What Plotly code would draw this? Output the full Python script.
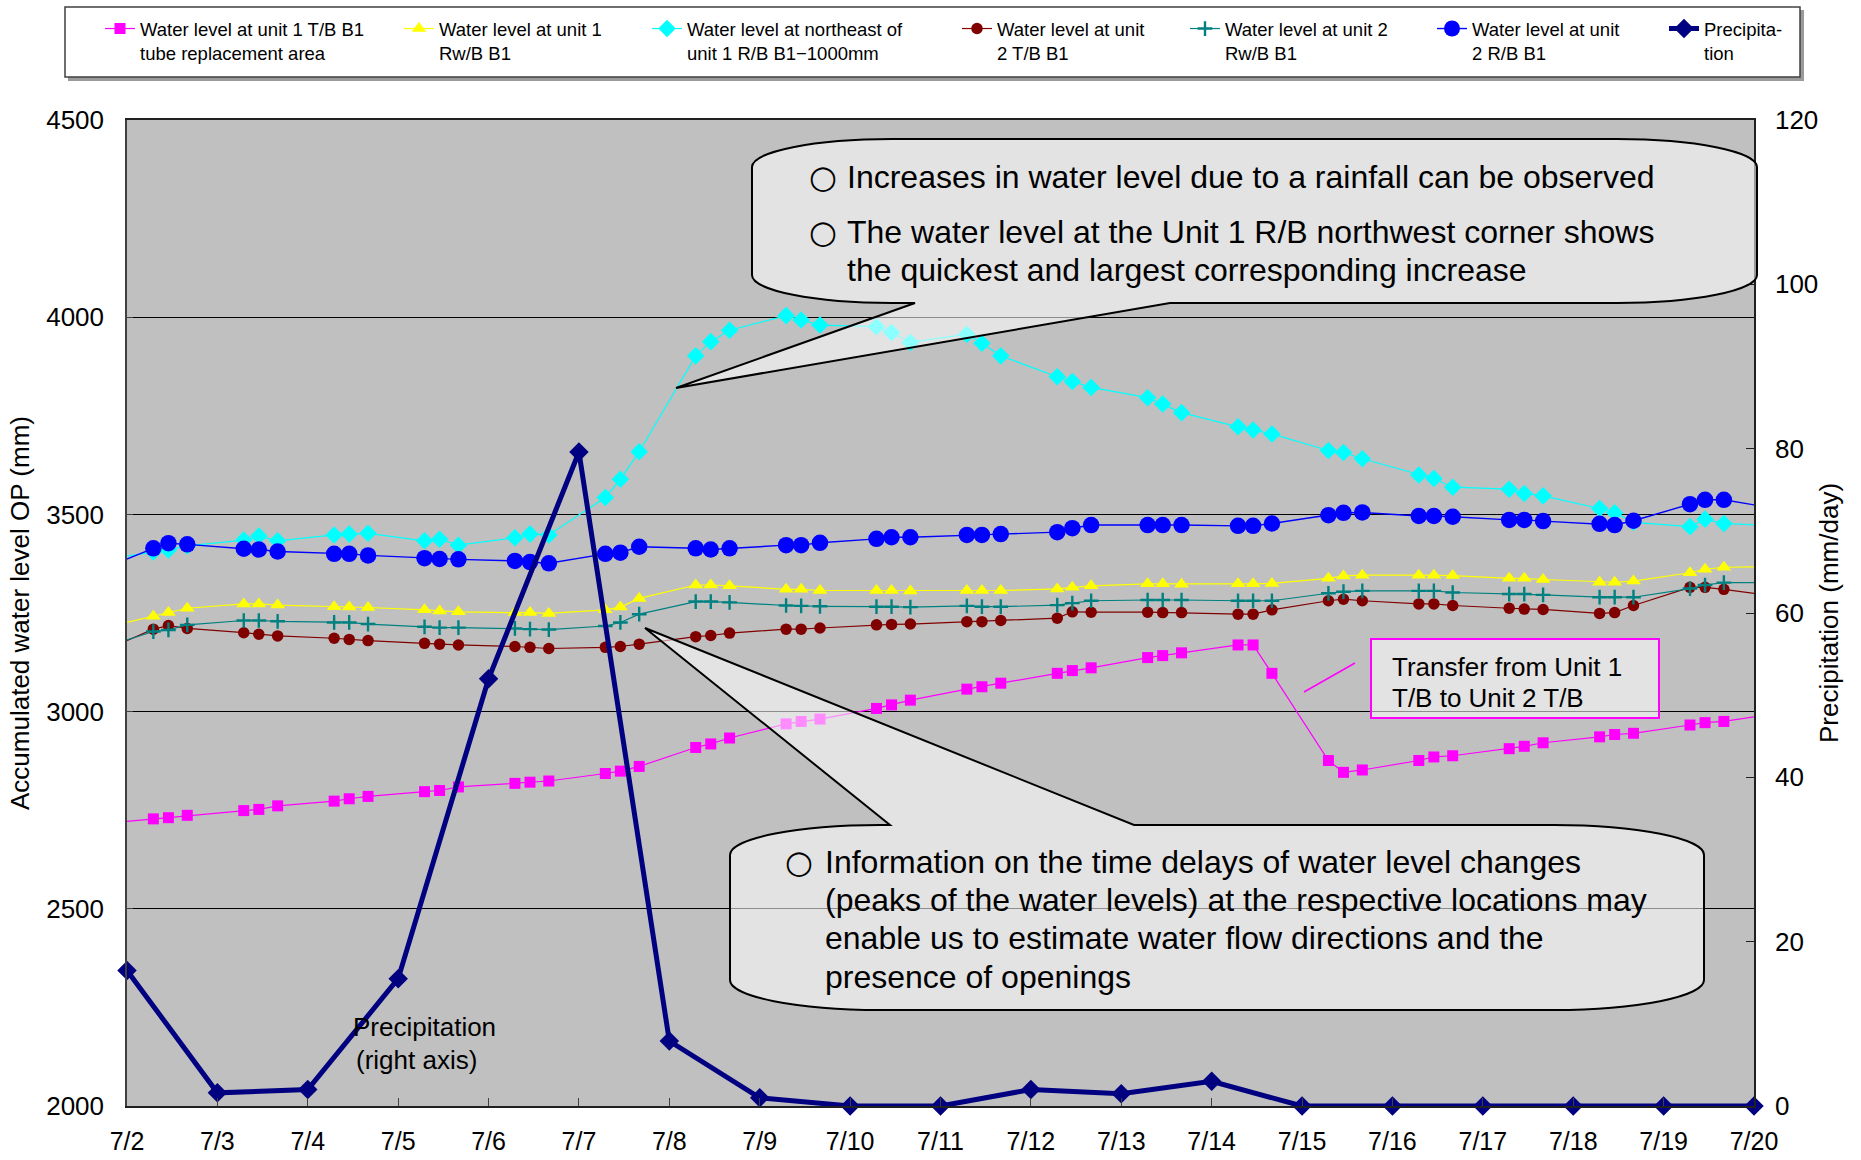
import plotly.graph_objects as go

# ---------------- data ----------------
days = list(range(2, 20))                      # 7/2 ... 7/19, three readings a day
reading_hours = ["07:00", "11:00", "16:00"]
first_reading = "2011-07-01 16:00"             # previous reading (left of the chart)
last_reading = "2011-07-20 07:00"              # next reading (right of the chart)

level_u1_tb = [2715,
               2728, 2731, 2737, 2749, 2752, 2761, 2773, 2779, 2785, 2797, 2800, 2809,
               2818, 2821, 2824, 2843, 2849, 2861, 2909, 2918, 2933, 2969, 2975, 2981,
               3008, 3017, 3029, 3057, 3063, 3072, 3097, 3104, 3111, 3137, 3142, 3149,
               3169, 3169, 3097, 2876, 2846, 2852, 2876, 2885, 2888, 2906, 2912, 2921,
               2936, 2942, 2945, 2966, 2972, 2975,
               2997]
level_u1_rwb = [3208,
                3242, 3251, 3262, 3273, 3273, 3270, 3266, 3265, 3264, 3258, 3255, 3253,
                3251, 3251, 3249, 3258, 3265, 3287, 3321, 3321, 3319, 3310, 3310, 3307,
                3307, 3307, 3306, 3307, 3307, 3307, 3311, 3315, 3319, 3324, 3324, 3323,
                3324, 3324, 3325, 3338, 3344, 3346, 3346, 3346, 3345, 3338, 3338, 3335,
                3328, 3328, 3331, 3352, 3361, 3366,
                3368]
level_u1_rb_ne = [3383,
                  3405, 3410, 3420, 3435, 3445, 3433, 3448, 3450, 3452, 3433, 3437, 3422,
                  3441, 3450, 3448, 3543, 3589, 3659, 3902, 3938, 3967, 4004, 3993, 3980,
                  3976, 3961, 3936, 3957, 3934, 3902, 3849, 3837, 3822, 3796, 3780, 3758,
                  3722, 3714, 3704, 3662, 3657, 3641, 3600, 3591, 3569, 3564, 3553, 3547,
                  3515, 3504, 3480, 3469, 3488, 3477,
                  3470]
level_u2_tb = [3147,
               3209, 3218, 3211, 3200, 3196, 3192, 3186, 3183, 3180, 3173, 3171, 3169,
               3165, 3163, 3160, 3163, 3165, 3171, 3190, 3193, 3199, 3209, 3209, 3212,
               3220, 3221, 3222, 3228, 3228, 3231, 3237, 3253, 3252, 3252, 3251, 3251,
               3247, 3247, 3258, 3281, 3285, 3281, 3273, 3273, 3269, 3262, 3260, 3259,
               3249, 3251, 3269, 3315, 3315, 3310,
               3291]
level_u2_rwb = [3158,
                3203, 3207, 3220, 3231, 3231, 3229, 3226, 3226, 3222, 3215, 3213, 3213,
                3211, 3209, 3208, 3217, 3226, 3247, 3279, 3279, 3277, 3269, 3268, 3267,
                3266, 3266, 3265, 3268, 3266, 3266, 3270, 3275, 3281, 3283, 3283, 3283,
                3281, 3281, 3281, 3300, 3304, 3306, 3306, 3306, 3302, 3298, 3298, 3296,
                3290, 3290, 3290, 3312, 3321, 3327,
                3327]
level_u2_rb = [3356,
               3414, 3427, 3424, 3413, 3411, 3406, 3400, 3400, 3396, 3389, 3387, 3386,
               3382, 3379, 3376, 3400, 3403, 3418, 3414, 3411, 3414, 3422, 3422, 3428,
               3438, 3442, 3442, 3448, 3448, 3450, 3455, 3465, 3473, 3473, 3473, 3473,
               3471, 3471, 3477, 3498, 3504, 3505, 3496, 3496, 3494, 3486, 3486, 3483,
               3476, 3473, 3484, 3526, 3537, 3537,
               3513]

precip_dates = ["2011-07-02", "2011-07-03", "2011-07-04", "2011-07-05", "2011-07-06",
                "2011-07-07", "2011-07-08", "2011-07-09", "2011-07-10", "2011-07-11",
                "2011-07-12", "2011-07-13", "2011-07-14", "2011-07-15", "2011-07-16",
                "2011-07-17", "2011-07-18", "2011-07-19", "2011-07-20"]
precipitation = [16.5, 1.6, 2.0, 15.5, 52.0, 79.6, 7.9, 1.0, 0, 0,
                 2.0, 1.5, 3.0, 0, 0, 0, 0, 0, 0]

tick_labels = ["7/2", "7/3", "7/4", "7/5", "7/6", "7/7", "7/8", "7/9", "7/10", "7/11",
               "7/12", "7/13", "7/14", "7/15", "7/16", "7/17", "7/18", "7/19", "7/20"]
left_ticks = [2000, 2500, 3000, 3500, 4000, 4500]
right_ticks = [0, 20, 40, 60, 80, 100, 120]

series_names = [
    "Water level at unit 1 T/B B1<br>tube replacement area",
    "Water level at unit 1<br>Rw/B B1",
    "Water level at northeast of<br>unit 1 R/B B1\u22121000mm",
    "Water level at unit<br>2 T/B B1",
    "Water level at unit 2<br>Rw/B B1",
    "Water level at unit<br>2 R/B B1",
    "Precipita-<br>tion",
]

reading_times = ([first_reading]
                 + [f"2011-07-{d:02d} {h}" for d in days for h in reading_hours]
                 + [last_reading])

# ---------------- geometry helpers ----------------
W, H = 1861, 1160
PL, PR, PT, PB = 127, 1754, 120, 1106


def fx(x):
    return (x - PL) / (PR - PL)


def fy(y):
    return (PB - y) / (PB - PT)


FONT = "Liberation Sans, Arial, sans-serif"

fig = go.Figure()

styles = [
    dict(color="#FF00FF", symbol="square", size=11, lw=1.2),
    dict(color="#FFFF00", symbol="triangle-up", size=13, lw=1.2),
    dict(color="#00FFFF", symbol="diamond", size=13.5, lw=1.2),
    dict(color="#800000", symbol="circle", size=11.5, lw=1.2),
    dict(color="#008080", symbol="cross-thin", size=10.5, lw=1.2),
    dict(color="#0000FF", symbol="circle", size=16.5, lw=1.4),
]
level_series = [level_u1_tb, level_u1_rwb, level_u1_rb_ne, level_u2_tb, level_u2_rwb, level_u2_rb]

for i, (vals, st) in enumerate(zip(level_series, styles)):
    marker = dict(color=st["color"], symbol=st["symbol"], size=st["size"])
    if st["symbol"] == "cross-thin":
        marker["line"] = dict(color=st["color"], width=2.4)
    fig.add_trace(go.Scatter(
        x=reading_times, y=vals, mode="lines+markers", name=series_names[i],
        line=dict(color=st["color"], width=st["lw"]), marker=marker,
        legend="legend" if i == 0 else f"legend{i + 1}",
        yaxis="y",
    ))

fig.add_trace(go.Scatter(
    x=precip_dates, y=precipitation, mode="lines+markers", name=series_names[6],
    line=dict(color="#000080", width=5),
    marker=dict(color="#000080", symbol="diamond", size=15),
    yaxis="y2", cliponaxis=False, legend="legend7",
))

# ---------------- legends (one per entry, placed like the original) ----------------
text_starts = [140, 439, 687, 997, 1225, 1472, 1704]
legend_font = dict(family=FONT, size=18.5, color="black")
for i, ts in enumerate(text_starts):
    key = "legend" if i == 0 else f"legend{i + 1}"
    fig.layout[key] = dict(
        x=fx(ts - 40), y=fy(10), xanchor="left", yanchor="top",
        bgcolor="rgba(0,0,0,0)", borderwidth=0, font=legend_font,
        valign="top", orientation="v", itemsizing="trace",
    )

# ---------------- shapes ----------------
K = 0.5523


def P(x, y):
    return f"{fx(x):.5f},{fy(y):.5f}"


def bubble(L, T, R, B, rx, ry, bx1, bx2, tip, where):
    p = [f"M {P(L + rx, T)}"]
    if where == "top":
        p += [f"L {P(bx1, T)}", f"L {P(*tip)}", f"L {P(bx2, T)}"]
    p += [f"L {P(R - rx, T)}",
          f"C {P(R - rx + K * rx, T)} {P(R, T + ry - K * ry)} {P(R, T + ry)}",
          f"L {P(R, B - ry)}",
          f"C {P(R, B - ry + K * ry)} {P(R - rx + K * rx, B)} {P(R - rx, B)}"]
    if where == "bottom":
        p += [f"L {P(bx2, B)}", f"L {P(*tip)}", f"L {P(bx1, B)}"]
    p += [f"L {P(L + rx, B)}",
          f"C {P(L + rx - K * rx, B)} {P(L, B - ry + K * ry)} {P(L, B - ry)}",
          f"L {P(L, T + ry)}",
          f"C {P(L, T + ry - K * ry)} {P(L + rx - K * rx, T)} {P(L + rx, T)}",
          "Z"]
    return " ".join(p)


bubble_fill = "rgba(255,255,255,0.55)"
shapes = [
    # legend frame with a light shadow
    dict(type="rect", xref="paper", yref="paper", layer="below",
         x0=fx(68), x1=fx(1804), y0=fy(81), y1=fy(10),
         fillcolor="#9a9a9a", line=dict(width=0)),
    dict(type="rect", xref="paper", yref="paper", layer="below",
         x0=fx(65), x1=fx(1800), y0=fy(77), y1=fy(7),
         fillcolor="white", line=dict(color="#404040", width=1.5)),
    # callouts
    dict(type="path", xref="paper", yref="paper", layer="above",
         path=bubble(752, 139, 1757, 303, 140, 28, 915, 1170, (676, 388), "bottom"),
         fillcolor=bubble_fill, line=dict(color="black", width=2)),
    dict(type="path", xref="paper", yref="paper", layer="above",
         path=bubble(730, 825, 1704, 1010, 150, 30, 890, 1134, (645, 628), "top"),
         fillcolor=bubble_fill, line=dict(color="black", width=2)),
    dict(type="rect", xref="paper", yref="paper", layer="above",
         x0=fx(1371), x1=fx(1659), y0=fy(718), y1=fy(639),
         fillcolor=bubble_fill, line=dict(color="#FF00FF", width=2)),
    dict(type="line", xref="paper", yref="paper", layer="above",
         x0=fx(1304), y0=fy(692), x1=fx(1355), y1=fy(663),
         line=dict(color="#FF00FF", width=1.5)),
]

# ---------------- annotations ----------------
big = dict(family=FONT, size=32, color="black")
mid = dict(family=FONT, size=26, color="black")
circ = dict(family="DejaVu Sans, Noto Sans CJK JP", size=32, color="black")


def note(x, y, text, font, xanchor="left"):
    return dict(xref="paper", yref="paper", x=fx(x), y=fy(y), text=text,
                showarrow=False, xanchor=xanchor, yanchor="middle", font=font)


annotations = [
    note(823, 177, "\u25cb", circ, "center"),
    note(845, 177, "Increases in water level due to a rainfall can be observed", big),
    note(823, 232, "\u25cb", circ, "center"),
    note(845, 232, "The water level at the Unit 1 R/B northwest corner shows", big),
    note(845, 270, "the quickest and largest corresponding increase", big),
    note(799, 862, "\u25cb", circ, "center"),
    note(823, 862, "Information on the time delays of water level changes", big),
    note(823, 900, "(peaks of the water levels) at the respective locations may", big),
    note(823, 938, "enable us to estimate water flow directions and the", big),
    note(823, 977, "presence of openings", big),
    note(1390, 667, "Transfer from Unit 1", mid),
    note(1390, 698, "T/B to Unit 2 T/B", mid),
    note(351, 1027, "Precipitation", mid),
    note(354, 1060, "(right axis)", mid),
]

tickfont = dict(family=FONT, size=26, color="black")
xtickfont = dict(family=FONT, size=25, color="black")
fig.update_layout(
    width=W, height=H,
    margin=dict(l=PL, r=W - PR, t=PT, b=H - PB, pad=0, autoexpand=False),
    paper_bgcolor="white", plot_bgcolor="#C0C0C0",
    font=dict(family=FONT, color="black"),
    showlegend=True,
    xaxis=dict(type="date", range=["2011-07-02", "2011-07-20"],
               tickvals=precip_dates, ticktext=tick_labels,
               ticks="inside", ticklen=8, tickcolor="#404040", tickwidth=1,
               showline=True, linecolor="#202020", linewidth=1.5, mirror=True,
               showgrid=False, zeroline=False, tickfont=xtickfont,
               ticklabelstandoff=12, automargin=False),
    yaxis=dict(range=[2000, 4500], tickvals=left_ticks,
               showgrid=True, gridcolor="black", gridwidth=1,
               ticks="inside", ticklen=6, tickcolor="#404040",
               showline=True, linecolor="#404040", linewidth=1.5,
               zeroline=False, tickfont=tickfont, ticklabelstandoff=16,
               automargin=False,
               title=dict(text="Accumulated water level OP (mm)",
                          font=dict(family=FONT, size=26), standoff=9)),
    yaxis2=dict(range=[0, 120], tickvals=right_ticks, overlaying="y", side="right",
                showgrid=False, zeroline=False,
                ticks="inside", ticklen=8, tickcolor="#202020",
                showline=True, linecolor="#202020", linewidth=1.5,
                tickfont=tickfont, ticklabelstandoff=14, automargin=False,
                title=dict(text="Precipitation (mm/day)",
                           font=dict(family=FONT, size=26), standoff=2)),
    shapes=shapes,
    annotations=annotations,
)

fig.write_html("out.html", config={"displayModeBar": False},
               post_script="document.body.style.margin='0';")
